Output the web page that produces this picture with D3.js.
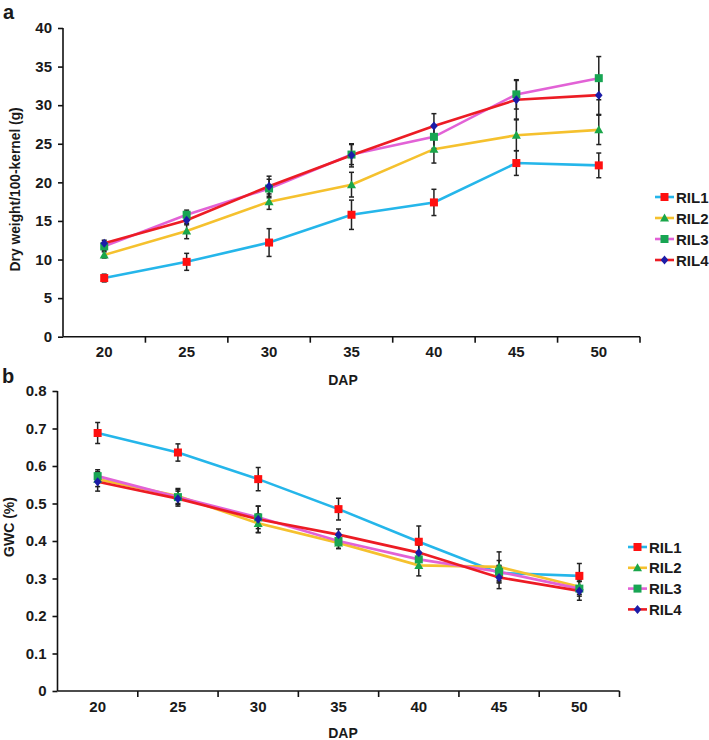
<!DOCTYPE html>
<html><head><meta charset="utf-8">
<script src="https://cdn.jsdelivr.net/npm/d3@7"></script>
<style>
html,body{margin:0;padding:0;background:#fff;}
svg text{font-family:"Liberation Sans",Arial,sans-serif;font-weight:bold;fill:#1a1a1a;}
</style></head>
<body><svg id="c" width="709" height="740"></svg>
<script>
const categories = ["20","25","30","35","40","45","50"];
const seriesNames = ["RIL1","RIL2","RIL3","RIL4"];
// Panel a: dry weight / 100-kernel (g)
const dwRIL1 = [7.6, 9.7, 12.2, 15.8, 17.4, 22.5, 22.2];
const dwRIL2 = [10.6, 13.7, 17.5, 19.7, 24.3, 26.1, 26.8];
const dwRIL3 = [11.7, 15.8, 19.2, 23.6, 25.9, 31.4, 33.5];
const dwRIL4 = [12.1, 15.1, 19.5, 23.5, 27.3, 30.7, 31.3];
const dwErr1 = [0.5, 1.1, 1.8, 1.9, 1.7, 1.6, 1.6];
const dwErr2 = [0.4, 1.0, 1.0, 1.6, 1.8, 2.0, 1.9];
const dwErr3 = [0.5, 0.6, 1.2, 1.3, 1.5, 1.9, 2.8];
const dwErr4 = [0.4, 0.6, 1.3, 1.5, 1.6, 2.5, 2.5];
const dwTicks = [0,5,10,15,20,25,30,35,40];
// Panel b: GWC (%)
const gwRIL1 = [0.688, 0.636, 0.565, 0.485, 0.398, 0.315, 0.307];
const gwRIL2 = [0.565, 0.520, 0.447, 0.395, 0.335, 0.331, 0.278];
const gwRIL3 = [0.573, 0.517, 0.463, 0.400, 0.351, 0.318, 0.273];
const gwRIL4 = [0.558, 0.513, 0.458, 0.417, 0.369, 0.303, 0.267];
const gwErr1 = [0.028, 0.023, 0.031, 0.029, 0.042, 0.020, 0.033];
const gwErr2 = [0.020, 0.020, 0.025, 0.015, 0.028, 0.040, 0.020];
const gwErr3 = [0.017, 0.020, 0.030, 0.020, 0.020, 0.030, 0.020];
const gwErr4 = [0.025, 0.020, 0.035, 0.015, 0.020, 0.030, 0.025];
const gwTicks = [0,0.1,0.2,0.3,0.4,0.5,0.6,0.7,0.8];

const lineColors = ["#25b6ea","#f5c12e","#e262d6","#ec1c24"];
const markColors = ["#ff1010","#1aa64a","#18a553","#1c1ca8"];
const markShapes = ["square","triangle","square","diamond"];

const svg = d3.select("#c");

function marker(g, shape, color, x, y){
  if(shape==="square") g.append("rect").attr("x",x-4).attr("y",y-4).attr("width",8).attr("height",8).attr("fill",color);
  else if(shape==="triangle") g.append("path").attr("d",`M${x},${y-4.5}L${x+4.5},${y+3.5}L${x-4.5},${y+3.5}Z`).attr("fill",color);
  else g.append("path").attr("d",`M${x},${y-4.5}L${x+3.8},${y}L${x},${y+4.5}L${x-3.8},${y}Z`).attr("fill",color);
}

function panel(opt){
  const g = svg.append("g");
  const x = d3.scaleBand().domain(categories).range([opt.x0,opt.x1]).padding(0);
  const y = d3.scaleLinear().domain([0,opt.ymax]).range([opt.yb,opt.yt]);
  // y axis
  const ya = g.append("g").attr("transform",`translate(${opt.x0},0)`)
    .call(d3.axisLeft(y).tickValues(opt.ticks).tickSize(5).tickPadding(6).tickFormat(opt.fmt));
  ya.selectAll("path,line").attr("stroke","#111").attr("stroke-width",1.6);
  ya.select(".domain").attr("d",`M0,${opt.yb}V${opt.yt}`);
  ya.selectAll("text").style("font-size","15px").attr("fill","#1a1a1a");
  // x axis
  const xa = g.append("g").attr("transform",`translate(0,${opt.yb})`)
    .call(d3.axisBottom(x).tickSize(0).tickPadding(opt.xpad));
  xa.select(".domain").attr("stroke","#111").attr("stroke-width",1.6).attr("d",`M${opt.x0},0H${opt.x1}`);
  xa.selectAll("text").style("font-size","15px").attr("fill","#1a1a1a");
  const bounds = categories.map(c=>x(c)).concat([x(categories[categories.length-1])+x.bandwidth()]).slice(1);
  xa.selectAll("line.b").data(bounds).enter().append("line").attr("class","b")
    .attr("x1",d=>d).attr("x2",d=>d).attr("y1",0).attr("y2",6).attr("stroke","#111").attr("stroke-width",1.6);
  // labels
  g.append("text").attr("x",opt.dapX).attr("y",opt.dapY).attr("text-anchor","middle").style("font-size","14px").text("DAP");
  g.append("text").attr("transform",`translate(${opt.ylx},${(opt.yb+opt.yt)/2+opt.yloff}) rotate(-90)`)
    .attr("text-anchor","middle").style("font-size",opt.ylfs).text(opt.ylabel);
  g.append("text").attr("x",opt.panelX).attr("y",opt.panelY).style("font-size","20px").text(opt.panel);
  const cx = c=>x(c)+x.bandwidth()/2;
  // lines
  opt.series.forEach((s,i)=>{
    const line = d3.line().x((d,j)=>cx(categories[j])).y(d=>y(d));
    g.append("path").attr("d",line(s)).attr("fill","none").attr("stroke",lineColors[i]).attr("stroke-width",2.6);
  });
  // error bars
  opt.series.forEach((s,i)=>{
    s.forEach((v,j)=>{
      const xx = cx(categories[j]), e = opt.errs[i][j];
      g.append("line").attr("x1",xx).attr("x2",xx).attr("y1",y(v-e)).attr("y2",y(v+e)).attr("stroke","#222").attr("stroke-width",1.5);
      [v-e,v+e].forEach(t=>g.append("line").attr("x1",xx-2.5).attr("x2",xx+2.5).attr("y1",y(t)).attr("y2",y(t)).attr("stroke","#222").attr("stroke-width",1.5));
    });
  });
  // markers
  opt.series.forEach((s,i)=>{
    s.forEach((v,j)=>marker(g, markShapes[i], markColors[i], cx(categories[j]), y(v)));
  });
  // legend
  seriesNames.forEach((n,i)=>{
    const ly = opt.legY + i*opt.legStep;
    g.append("line").attr("x1",opt.legX).attr("x2",opt.legX+19).attr("y1",ly).attr("y2",ly).attr("stroke",lineColors[i]).attr("stroke-width",2.6);
    marker(g, markShapes[i], markColors[i], opt.legX+9.5, ly);
    g.append("text").attr("x",opt.legX+21).attr("y",ly+5.5).style("font-size","15px").text(n);
  });
}

panel({x0:63,x1:640,yt:28,yb:336.7,ymax:40,ticks:dwTicks,fmt:d3.format("d"),xpad:10,
  dapX:343,dapY:385,ylx:20,yloff:7,ylfs:"13.8px",ylabel:"Dry weight/100-kernel (g)",
  panel:"a",panelX:3,panelY:19,
  series:[dwRIL1,dwRIL2,dwRIL3,dwRIL4],errs:[dwErr1,dwErr2,dwErr3,dwErr4],
  legX:655,legY:197,legStep:21});

panel({x0:57.5,x1:619.5,yt:391,yb:691,ymax:0.8,ticks:gwTicks,fmt:d=>d===0?"0":d3.format(".1f")(d),xpad:10,
  dapX:343,dapY:738,ylx:14,yloff:-14,ylfs:"14px",ylabel:"GWC (%)",
  panel:"b",panelX:2,panelY:383,
  series:[gwRIL1,gwRIL2,gwRIL3,gwRIL4],errs:[gwErr1,gwErr2,gwErr3,gwErr4],
  legX:628,legY:547,legStep:20.8});
</script></body></html>
